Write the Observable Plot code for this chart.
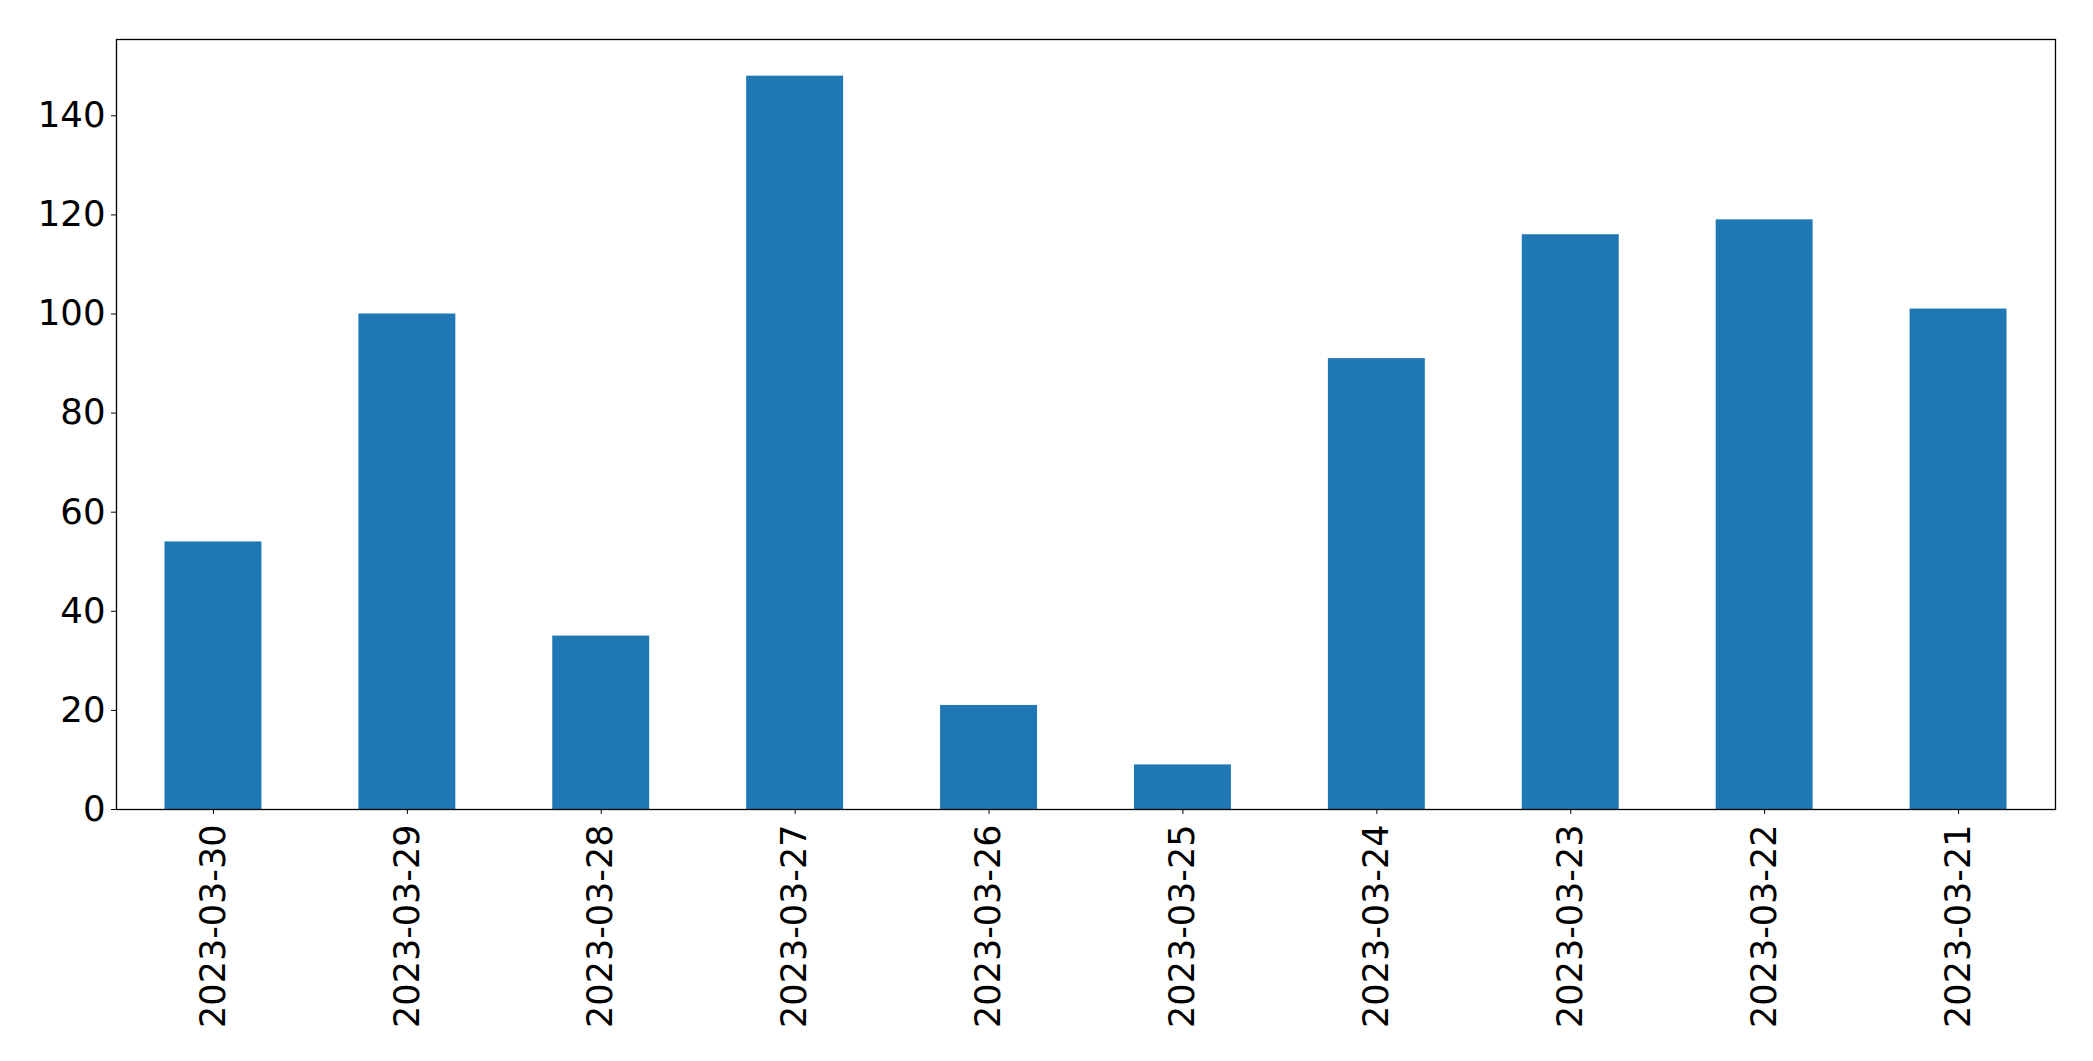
<!DOCTYPE html>
<html>
<head>
<meta charset="utf-8">
<script src="https://cdn.jsdelivr.net/npm/d3@7"></script>
<script src="https://cdn.jsdelivr.net/npm/@observablehq/plot@0.6"></script>
<style>
  html, body { margin: 0; padding: 0; background: #fff; }
  #chart svg { display: block; }
</style>
</head>
<body>
<div id="chart"></div>
<script>
const dates = ["2023-03-30","2023-03-29","2023-03-28","2023-03-27","2023-03-26","2023-03-25","2023-03-24","2023-03-23","2023-03-22","2023-03-21"];
const counts = [54, 100, 35, 148, 21, 9, 91, 116, 119, 101];
const yTicks = [0, 20, 40, 60, 80, 100, 120, 140];

const data = dates.map((d, i) => ({date: d, count: counts[i]}));

const chart = Plot.plot({
  width: 2093,
  height: 1061,
  marginLeft: 116,
  marginRight: 38,
  marginTop: 39,
  marginBottom: 252,
  style: {fontFamily: "DejaVu Sans", fontSize: "35px", color: "#000", background: "#fff"},
  x: {domain: dates, paddingInner: 0.5, paddingOuter: 0.25, round: false, label: null},
  y: {domain: [0, 155.4], label: null},
  marks: [
    Plot.barY(data, {x: "date", y: "count", fill: "#1f77b4"}),
    Plot.axisY({ticks: yTicks, tickSize: 5, tickPadding: 6, fontSize: 35.5, label: null}),
    Plot.axisX({tickRotate: -90, tickSize: 5, tickPadding: 10, fontSize: 35, label: null}),
    Plot.frame({stroke: "#000", strokeWidth: 1.3})
  ]
});
document.getElementById("chart").appendChild(chart);
</script>
</body>
</html>
